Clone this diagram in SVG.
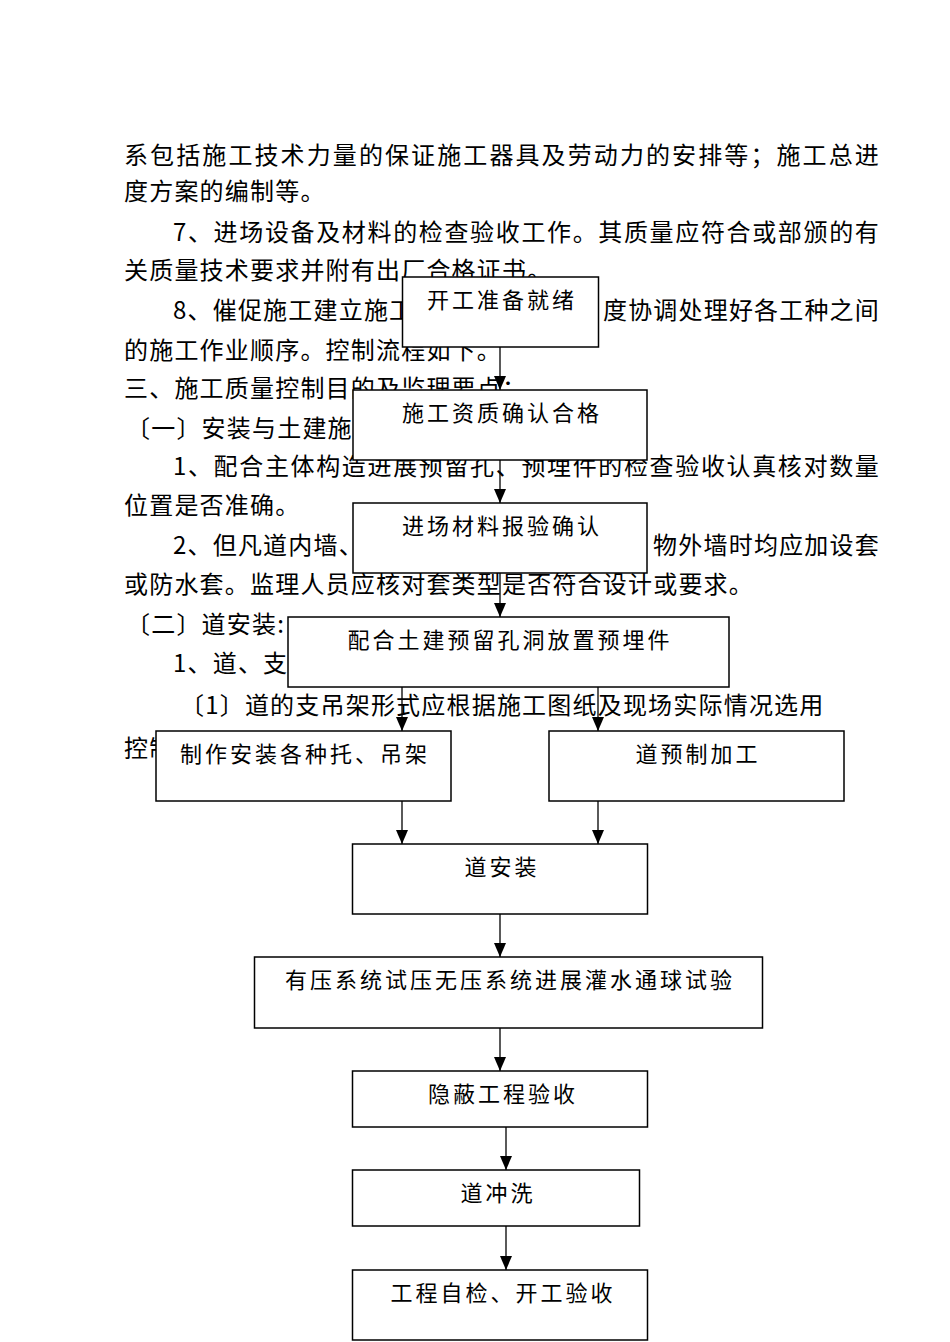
<svg xmlns="http://www.w3.org/2000/svg" width="950" height="1342" viewBox="0 0 950 1342">
<defs>
<style>
.body{font-family:"Noto Sans CJK SC","Liberation Serif",sans-serif;font-size:24px;fill:#000;letter-spacing:1.2px}
.box{fill:#fff;stroke:#000;stroke-width:1.5}
.lbl{font-family:"Noto Sans CJK SC","Liberation Sans",sans-serif;font-size:22px;fill:#000;text-anchor:middle;letter-spacing:3px}
.conn{stroke:#000;stroke-width:1.3;fill:none;marker-end:url(#arr)}
</style>
<marker id="arr" markerUnits="userSpaceOnUse" markerWidth="12" markerHeight="14" viewBox="0 0 12 14" refX="6" refY="14" orient="0">
<path d="M0,0 L12,0 L6,14 Z" fill="#000"/>
</marker>
</defs>
<rect width="950" height="1342" fill="#fff"/>
<g id="body-text">
<text class="body" x="124" y="164" textLength="756" lengthAdjust="spacing">系包括施工技术力量的保证施工器具及劳动力的安排等；施工总进</text>
<text class="body" x="124" y="200">度方案的编制等。</text>
<text class="body" x="173" y="241" textLength="707" lengthAdjust="spacing">7、进场设备及材料的检查验收工作。其质量应符合或部颁的有</text>
<text class="body" x="124" y="279">关质量技术要求并附有出厂合格证书。</text>
<text class="body" x="173" y="319">8、催促施工建立施工</text>
<text class="body" x="603" y="319" textLength="277" lengthAdjust="spacing">度协调处理好各工种之间</text>
<text class="body" x="124" y="359">的施工作业顺序。控制流程如下。</text>
<text class="body" x="124" y="397">三、施工质量控制目的及监理要点：</text>
<text class="body" x="126" y="437">〔一〕安装与土建施</text>
<text class="body" x="173" y="475" textLength="707" lengthAdjust="spacing">1、配合主体构造进展预留孔、预埋件的检查验收认真核对数量</text>
<text class="body" x="124" y="514">位置是否准确。</text>
<text class="body" x="173" y="554">2、但凡道内墙、</text>
<text class="body" x="653" y="554" textLength="227" lengthAdjust="spacing">物外墙时均应加设套</text>
<text class="body" x="124" y="593">或防水套。监理人员应核对套类型是否符合设计或要求。</text>
<text class="body" x="126" y="633">〔二〕道安装:</text>
<text class="body" x="173" y="672">1、道、支</text>
<text class="body" x="180" y="714">〔1〕道的支吊架形式应根据施工图纸及现场实际情况选用</text>
<text class="body" x="124" y="757">控制</text>
</g>
<g id="connectors">
<line class="conn" x1="500" y1="347" x2="500" y2="390"/>
<line class="conn" x1="500" y1="460" x2="500" y2="503"/>
<line class="conn" x1="500" y1="573" x2="500" y2="617"/>
<line class="conn" x1="402" y1="687" x2="402" y2="731"/>
<line class="conn" x1="598" y1="687" x2="598" y2="731"/>
<line class="conn" x1="402" y1="801" x2="402" y2="844"/>
<line class="conn" x1="598" y1="801" x2="598" y2="844"/>
<line class="conn" x1="500" y1="914" x2="500" y2="957"/>
<line class="conn" x1="500" y1="1028" x2="500" y2="1071"/>
<line class="conn" x1="506" y1="1127" x2="506" y2="1170"/>
<line class="conn" x1="506" y1="1226" x2="506" y2="1270"/>
</g>
<g id="n1"><rect class="box" x="402.5" y="277" width="196" height="70"/><text class="lbl" x="502" y="308">开工准备就绪</text></g>
<g id="n2"><rect class="box" x="353" y="390" width="294" height="70"/><text class="lbl" x="502" y="421">施工资质确认合格</text></g>
<g id="n3"><rect class="box" x="353" y="503" width="294" height="70"/><text class="lbl" x="502" y="534">进场材料报验确认</text></g>
<g id="n4"><rect class="box" x="288" y="617" width="441" height="70"/><text class="lbl" x="510" y="648">配合土建预留孔洞放置预埋件</text></g>
<g id="n5"><rect class="box" x="156" y="731" width="295" height="70"/><text class="lbl" x="305" y="762">制作安装各种托、吊架</text></g>
<g id="n6"><rect class="box" x="549" y="731" width="295" height="70"/><text class="lbl" x="698" y="762">道预制加工</text></g>
<g id="n7"><rect class="box" x="352.5" y="844" width="295" height="70"/><text class="lbl" x="502" y="875">道安装</text></g>
<g id="n8"><rect class="box" x="254.5" y="957" width="508" height="71"/><text class="lbl" x="510" y="988">有压系统试压无压系统进展灌水通球试验</text></g>
<g id="n9"><rect class="box" x="352.5" y="1071" width="295" height="56"/><text class="lbl" x="503" y="1102">隐蔽工程验收</text></g>
<g id="n10"><rect class="box" x="352.5" y="1170" width="287" height="56"/><text class="lbl" x="498" y="1201">道冲洗</text></g>
<g id="n11"><rect class="box" x="352.5" y="1270" width="295" height="70"/><text class="lbl" x="503" y="1301">工程自检、开工验收</text></g>
</svg>
